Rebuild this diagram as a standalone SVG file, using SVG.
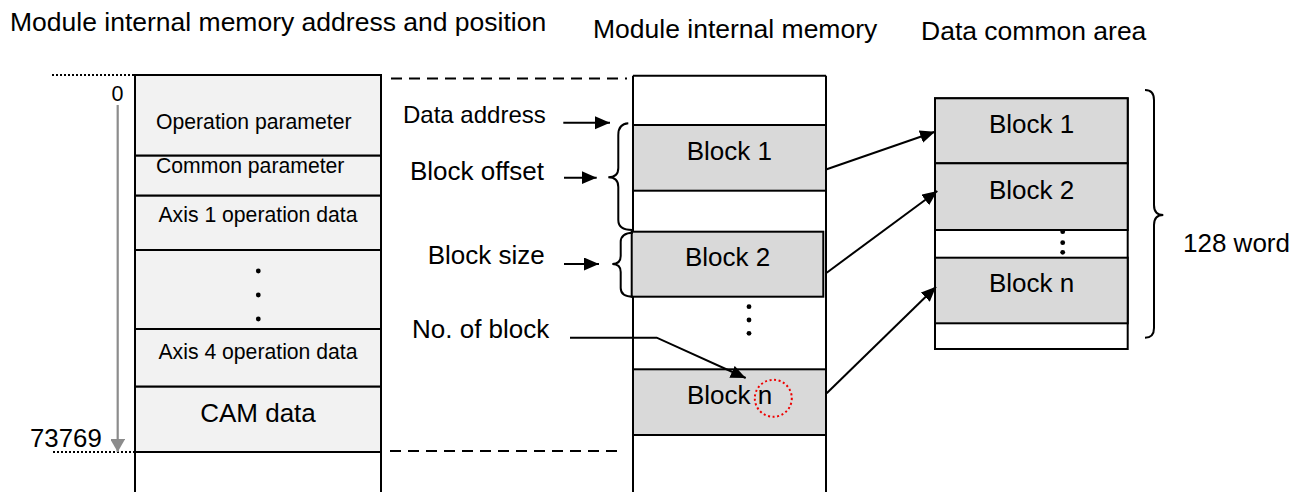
<svg xmlns="http://www.w3.org/2000/svg" width="1308" height="492" viewBox="0 0 1308 492">
<defs>
<style>
text{font-family:"Liberation Sans",Arial,sans-serif;fill:#000}
.t{font-size:26.5px}
.m{font-size:26px}
.s{font-size:21.2px}
.ln{stroke:#000;stroke-width:2;fill:none}
.lc{fill:#f2f2f2;stroke:#000;stroke-width:2}
.bk{fill:#d9d9d9;stroke:#000;stroke-width:2}
.wh{fill:#fff;stroke:#000;stroke-width:2}
.dot{fill:#000}
.dash{stroke:#000;stroke-width:2;stroke-dasharray:11 7;fill:none}
.dotted{stroke:#000;stroke-width:2;stroke-dasharray:2 2;fill:none}
.ar{stroke:#000;stroke-width:2;fill:none;marker-end:url(#ah)}
</style>
<marker id="ah" markerWidth="16" markerHeight="14" refX="15" refY="6.5" orient="auto" markerUnits="userSpaceOnUse">
<path d="M0,0 L15,6.5 L0,13 Z" fill="#000"/>
</marker>
<marker id="gah" markerWidth="16" markerHeight="14" refX="13" refY="7.5" orient="auto" markerUnits="userSpaceOnUse">
<path d="M0,0 L13,7.5 L0,15 Z" fill="#8c8c8c"/>
</marker>
</defs>

<g id="titles">
<text class="t" x="10" y="31">Module internal memory address and position</text>
<text class="t" x="593" y="38">Module internal memory</text>
<text class="t" x="921" y="40">Data common area</text>
</g>

<g id="left-column">
<line class="ln" x1="135" y1="452" x2="135" y2="492"/>
<line class="ln" x1="381" y1="452" x2="381" y2="492"/>
<rect class="lc" x="135" y="75" width="246" height="80.7"/>
<rect class="lc" x="135" y="155.7" width="246" height="40"/>
<rect class="lc" x="135" y="195.7" width="246" height="54.3"/>
<rect class="lc" x="135" y="250" width="246" height="79"/>
<rect class="lc" x="135" y="329" width="246" height="57.7"/>
<rect class="lc" x="135" y="386.7" width="246" height="65.3"/>
<text class="s" x="156" y="129.3">Operation parameter</text>
<text class="s" x="156" y="173.3">Common parameter</text>
<text class="s" x="258" y="221.7" text-anchor="middle" font-size="20.7">Axis 1 operation data</text>
<circle class="dot" cx="258.3" cy="271" r="2.4"/>
<circle class="dot" cx="258.3" cy="295" r="2.4"/>
<circle class="dot" cx="258.3" cy="319" r="2.4"/>
<text class="s" x="258" y="359" text-anchor="middle" font-size="20.7">Axis 4 operation data</text>
<text class="m" x="258" y="421.7" text-anchor="middle">CAM data</text>
</g>

<g id="address-axis">
<line class="dotted" x1="52" y1="75" x2="135" y2="75"/>
<line class="dotted" x1="53" y1="452" x2="135" y2="452"/>
<line x1="117.7" y1="105" x2="117.7" y2="452" stroke="#8c8c8c" stroke-width="2.2" marker-end="url(#gah)"/>
<text x="111.5" y="100.7" font-size="21.5">0</text>
<text x="30" y="446.7" font-size="25.8">73769</text>
</g>

<g id="dashed-guides">
<line class="dash" x1="391" y1="78.5" x2="627" y2="78.5"/>
<line class="dash" x1="390" y1="451" x2="624" y2="451"/>
</g>

<g id="middle-column">
<line class="ln" x1="633" y1="75.7" x2="826" y2="75.7"/>
<line class="ln" x1="633" y1="75.7" x2="633" y2="492"/>
<line class="ln" x1="826" y1="75.7" x2="826" y2="492"/>
<rect class="bk" x="633" y="125" width="193" height="65.7"/>
<text class="m" x="686.7" y="160">Block 1</text>
<rect class="bk" x="631.7" y="231.7" width="191.6" height="65"/>
<text class="m" x="685" y="266">Block 2</text>
<circle class="dot" cx="749" cy="306.7" r="2.4"/>
<circle class="dot" cx="749" cy="320" r="2.4"/>
<circle class="dot" cx="749" cy="333.3" r="2.4"/>
<rect class="bk" x="633" y="369.3" width="193" height="65.7"/>
<text class="m" x="687" y="404" font-size="25.8">Block n</text>
<circle cx="773.3" cy="398.3" r="18.5" fill="none" stroke="#e00" stroke-width="2" stroke-dasharray="2 2.6"/>
</g>

<g id="labels">
<text x="403" y="123" font-size="24">Data address</text>
<text class="m" x="410" y="180">Block offset</text>
<text class="m" x="427.7" y="264">Block size</text>
<text class="m" x="412" y="338">No. of block</text>
<path class="ln" d="M628.3,123.3 Q618.3,124 618.3,135 L618.3,168 Q618.3,177.3 608.3,177.3 Q618.3,177.3 618.3,187 L618.3,220 Q618.3,230 632.3,230"/>
<path class="ln" d="M633,232.7 Q620.7,233 620.7,242 L620.7,256 Q620.7,264 612.3,264 Q620.7,264 620.7,272 L620.7,288 Q620.7,296.7 633,296.7"/>
</g>

<g id="right-column">
<rect class="wh" x="935" y="98.3" width="192.7" height="250.7"/>
<rect class="bk" x="935" y="98.3" width="192.7" height="65"/>
<rect class="bk" x="935" y="163.3" width="192.7" height="66.7"/>
<circle class="dot" cx="1062.7" cy="231.7" r="2.4"/>
<circle class="dot" cx="1062.7" cy="242.7" r="2.4"/>
<circle class="dot" cx="1062.7" cy="252.3" r="2.4"/>
<rect class="bk" x="935" y="257.7" width="192.7" height="65.6"/>
<text class="m" x="989" y="133">Block 1</text>
<text class="m" x="989" y="199">Block 2</text>
<text class="m" x="989" y="292">Block n</text>
<path class="ln" d="M1145,90 Q1154,90 1154,100 L1154,205 Q1154,215 1163.3,215 Q1154,215 1154,225 L1154,328 Q1154,337.7 1145,337.7"/>
<text class="m" x="1183" y="251.7">128 word</text>
</g>

<g id="connectors">
<line class="ar" x1="563.3" y1="122.7" x2="610" y2="122.7"/>
<line class="ar" x1="564" y1="177.7" x2="596.7" y2="177.7"/>
<line class="ar" x1="564" y1="264" x2="599" y2="264"/>
<polyline class="ar" points="570,337.7 656.7,337.7 745.7,378"/>
<line class="ar" x1="826.7" y1="169.3" x2="935" y2="131.7"/>
<line class="ar" x1="826.7" y1="272.7" x2="937.3" y2="191"/>
<line class="ar" x1="826.7" y1="393.3" x2="936" y2="286.7"/>
</g>
</svg>
